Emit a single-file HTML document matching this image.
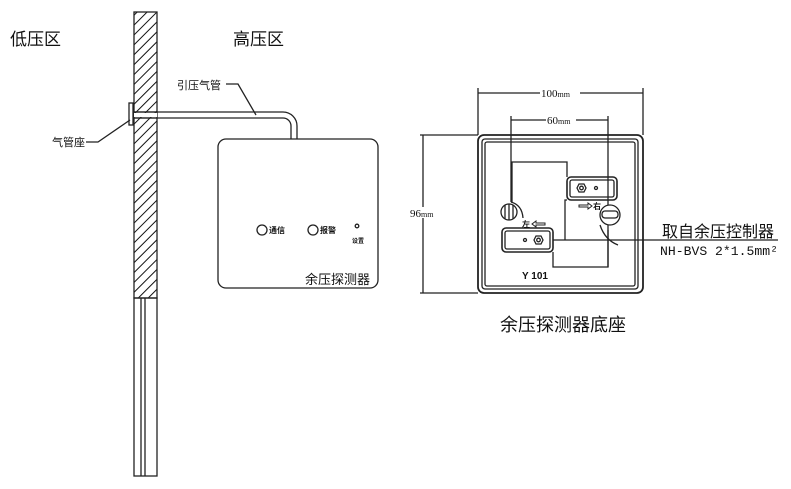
<!DOCTYPE html>
<html><head><meta charset="utf-8"><style>
html,body{margin:0;padding:0;background:#fff;width:791px;height:489px;overflow:hidden}
svg{display:block}
text{fill:#111}
.s{font-family:"Liberation Sans","Noto Sans CJK SC",sans-serif}
.r{font-family:"Liberation Serif","Noto Serif CJK SC",serif}
.m{font-family:"Liberation Mono",monospace}
</style></head><body>
<svg width="791" height="489" viewBox="0 0 791 489" xmlns="http://www.w3.org/2000/svg">
<defs>
<pattern id="h" width="7" height="7" patternUnits="userSpaceOnUse" patternTransform="rotate(45)">
<rect width="7" height="7" fill="#fff"/><line x1="0" y1="0" x2="0" y2="7" stroke="#111" stroke-width="2"/>
</pattern>
</defs>
<g stroke="#222" fill="none" stroke-width="1.3">
<rect x="134" y="12" width="23" height="286" fill="url(#h)"/>
<rect x="134" y="298" width="23" height="178"/>
<line x1="141" y1="298" x2="141" y2="476"/>
<line x1="145" y1="298" x2="145" y2="476"/>
<rect x="129" y="103" width="4" height="22" fill="#fff"/>
<path d="M133 112 H283 A14 14 0 0 1 297 126 V139" fill="none"/>
<path d="M133 118 H283 A8 8 0 0 1 291 126 V139" fill="none"/>
<rect x="134" y="113" width="23" height="4" fill="#fff" stroke="none"/>
<line x1="133" y1="112" x2="157" y2="112"/><line x1="133" y1="118" x2="157" y2="118"/>
<polyline points="226,84 238,84 256,115"/>
<polyline points="86,142 98,142 130,120"/>
<rect x="218" y="139" width="160" height="149" rx="8" fill="#fff"/>
<circle cx="262" cy="230" r="5"/>
<circle cx="313" cy="230" r="5"/>
<circle cx="357" cy="226" r="1.8"/>
<line x1="478" y1="88" x2="478" y2="135"/><line x1="643" y1="88" x2="643" y2="135"/>
<line x1="478" y1="93" x2="643" y2="93"/>
<line x1="511" y1="116" x2="511" y2="202"/><line x1="608" y1="116" x2="608" y2="267"/>
<line x1="511" y1="120" x2="608" y2="120"/>
<line x1="420" y1="135" x2="478" y2="135"/><line x1="420" y1="293" x2="478" y2="293"/>
<line x1="423" y1="135" x2="423" y2="293"/>
<rect x="478" y="135" width="165" height="158" rx="6" stroke-width="1.8"/>
<rect x="482" y="139" width="156" height="150" rx="3"/>
<rect x="485" y="142" width="150" height="144" rx="2"/>
<path d="M512 202 V162 H567 V177"/>
<path d="M567 200 H565 V240"/>
<path d="M553 252 V267 H608 V230"/>
<rect x="567" y="177" width="50" height="23" rx="4" stroke-width="1.6"/>
<rect x="570" y="180" width="44" height="17" rx="2"/>
<polygon points="577,188 579,184 584,184 586,188 584,192 579,192"/><circle cx="581.5" cy="188" r="1.8"/>
<circle cx="596" cy="188" r="1.5"/>
<circle cx="610" cy="215" r="10" fill="#fff"/>
<rect x="602" y="211" width="16" height="7" rx="3"/>
<path d="M600 225 Q605 240 618 245"/>
<path d="M511 202 Q522 205 523 218"/>
<circle cx="509" cy="212" r="8" fill="#fff"/>
<line x1="505" y1="205" x2="505" y2="219"/><line x1="509" y1="204" x2="509" y2="220"/><line x1="513" y1="205" x2="513" y2="219"/>
<rect x="502" y="228" width="51" height="24" rx="4" stroke-width="1.6"/>
<rect x="505" y="231" width="45" height="18" rx="2"/>
<circle cx="525" cy="240" r="1.5"/>
<polygon points="534,240 536,236 541,236 543,240 541,244 536,244"/><circle cx="538.5" cy="240" r="1.8"/>
<line x1="553" y1="240" x2="778" y2="240"/>
<path d="M579 205 h9 v-2 l4 3 l-4 3 v-2 h-9z" stroke-width="1"/>
<path d="M545 223 h-9 v-2 l-4 3 l4 3 v-2 h9z" stroke-width="1"/>
</g>
<text class="s" x="10" y="45" font-size="17">低压区</text>
<text class="s" x="233" y="45" font-size="17">高压区</text>
<text class="s" x="177" y="89" font-size="11">引压气管</text>
<text class="s" x="52" y="146" font-size="11">气管座</text>
<text class="s" x="269" y="233" font-size="8" font-weight="bold">通信</text>
<text class="s" x="320" y="233" font-size="8" font-weight="bold">报警</text>
<text class="s" x="352" y="243" font-size="6" font-weight="bold">设置</text>
<text class="s" x="305" y="284" font-size="13">余压探测器</text>
<rect x="540" y="88" width="40" height="10" fill="#fff"/>
<text class="r" x="541" y="97" font-size="11">100<tspan font-size="8">mm</tspan></text>
<rect x="546" y="115" width="30" height="10" fill="#fff"/>
<text class="r" x="547" y="124" font-size="11">60<tspan font-size="8">mm</tspan></text>
<rect x="410" y="207" width="27" height="11" fill="#fff"/>
<text class="r" x="410" y="217" font-size="11">96<tspan font-size="8">mm</tspan></text>
<text class="s" x="593" y="209" font-size="8" font-weight="bold">右</text>
<text class="s" x="522" y="227" font-size="8" font-weight="bold">左</text>
<text class="s" x="522" y="279" font-size="10" font-weight="bold">Y 101</text>
<text class="s" x="662" y="237" font-size="16">取自余压控制器</text>
<text class="m" x="660" y="255" font-size="13" textLength="118" lengthAdjust="spacingAndGlyphs">NH-BVS 2*1.5mm²</text>
<text class="s" x="500" y="331" font-size="18">余压探测器底座</text>
</svg>
</body></html>
